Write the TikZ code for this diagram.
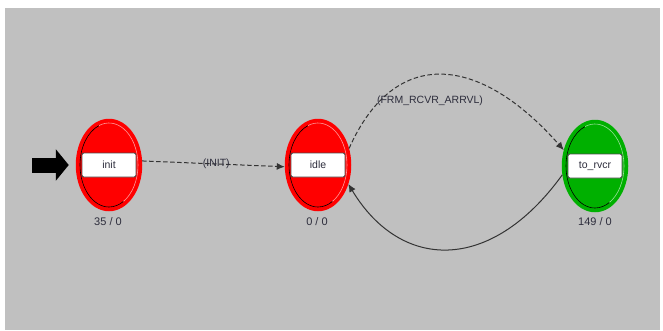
\documentclass[tikz,border=0pt]{standalone}
\usepackage{fontspec}
\setmainfont{Liberation Sans}
\usetikzlibrary{shapes.geometric,arrows.meta}
\definecolor{bg}{RGB}{192,192,192}
\definecolor{sred}{RGB}{255,0,0}
\definecolor{sgreen}{RGB}{0,176,0}
\definecolor{txt}{RGB}{45,45,60}
\tikzset{
  state/.style={ellipse, draw=#1, fill=#1, line width=2.5pt, minimum width=64pt, minimum height=90pt, inner sep=0pt},
  namebox/.style={draw=black!70, fill=white, rounded corners=2pt, line width=0.9pt, minimum width=54pt, minimum height=24pt, inner sep=0pt, font=\fontsize{10.5}{11}\selectfont, text=txt},
  count/.style={font=\fontsize{11}{12}\selectfont, text=txt},
  trans/.style={line width=1pt, black!80, -{Latex[length=8pt,width=7pt]}},
  tlabel/.style={font=\fontsize{10.5}{11}\selectfont, text=txt},
}
\begin{document}
\begin{tikzpicture}[x=1pt,y=-1pt]
\useasboundingbox (0,0) rectangle (663,330);
\fill[bg] (5,8) rectangle (660,330);
% states
\node[state=sred] (init) at (109,165) {};
\node[state=sred] (idle) at (318,165) {};
\node[state=sgreen] (rvcr) at (595,166) {};
\foreach \n/\c in {init/sred,idle/sred,rvcr/sgreen}{
  \draw[black, line width=0.6pt] (\n.center) ++(-29,0) arc[start angle=180, end angle=60, x radius=29, y radius=42];
  \draw[black, line width=0.6pt] (\n.center) ++(-29,0) arc[start angle=180, end angle=250, x radius=29, y radius=42];
  \draw[\c!40!white, line width=0.6pt] (\n.center) ++(29,0) arc[start angle=0, end angle=60, x radius=29, y radius=42];
  \draw[\c!40!white, line width=0.6pt] (\n.center) ++(29,0) arc[start angle=0, end angle=-110, x radius=29, y radius=42];
}
\node[namebox] (initbox) at (init.center) {init};
\node[namebox] (idlebox) at (idle.center) {idle};
\node[namebox] (rvcrbox) at (rvcr.center) {to\_rvcr};
\node[count] (initc) at (108,222) {35 / 0};
\node[count] (idlec) at (317,222) {0 / 0};
\node[count] (rvcrc) at (595,222) {149 / 0};
% initial arrow
\coordinate (entry) at (32,165);
\draw[line width=15pt, -{Triangle[length=13pt,width=31pt]}, shorten >=7pt] (entry) -- (init.west);
% transitions
\draw[trans, dash pattern=on 4.5pt off 2.5pt] (init.7) -- node[tlabel, pos=0.52] (l1) {(INIT)} (idle.183);
\draw[trans, dash pattern=on 4.5pt off 2.5pt] (idle.28) .. controls (395,45) and (480,55) .. (rvcr.153);
\node[tlabel] (l2) at (430,101) {(FRM\_RCVR\_ARRVL)};
\draw[trans] (rvcr.195) .. controls (490,275) and (400,270) .. (idle.328);
\end{tikzpicture}
\end{document}
